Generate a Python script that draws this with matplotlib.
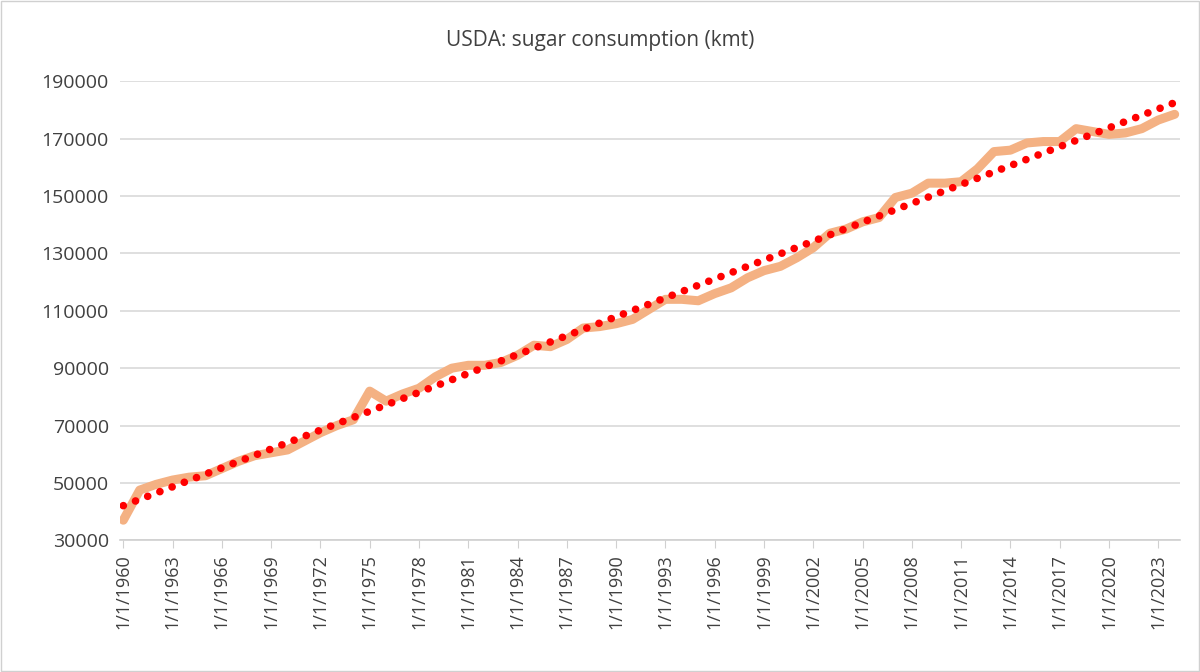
import matplotlib
matplotlib.use("Agg")
import matplotlib.pyplot as plt
import numpy as np

years = list(range(1960, 2025))
consumption = [37000, 47500, 49500, 51000, 52000, 52500, 55000, 57500, 59500, 60500,
               61500, 64500, 67500, 70000, 72000, 82000, 78500, 81000, 83000, 87000,
               90000, 91000, 91000, 92000, 94500, 98000, 97500, 100000, 104000, 104500,
               105500, 107000, 110500, 114000, 114000, 113500, 116000, 118000, 121500, 124000,
               125500, 128500, 132000, 137000, 138500, 141000, 142500, 149500, 151000, 154500,
               154500, 155000, 159500, 165500, 166000, 168500, 169000, 169000, 173500, 172500,
               171500, 172000, 173500, 176500, 178500]
labels = [f"1/1/{y}" for y in years]

plt.rcParams['font.family'] = ['Open Sans', 'DejaVu Sans']
fig = plt.figure(figsize=(12, 6.72), dpi=100)
ax = fig.add_axes([0.1, 0.196, 0.883, 0.683])
x = np.arange(len(years))
ax.plot(x, consumption, color='#f4b183', lw=6.5, solid_joinstyle='round', solid_capstyle='round', zorder=2)
coef = np.polyfit(x, consumption, 1)
ax.plot(x, np.polyval(coef, x), color='#ff0000', lw=5.5, linestyle=(0, (0.01, 1.7)),
        dash_capstyle='round', zorder=3)

ax.set_ylim(30000, 190000)
ax.set_yticks(range(30000, 190001, 20000))
ax.set_xlim(-0.2, len(years) - 0.7)
ax.set_xticks(x[::3])
ax.set_xticklabels(labels[::3], rotation=90, fontsize=13, color='#404040')
ax.tick_params(axis='y', labelsize=14, labelcolor='#404040', length=0, pad=8)
ax.tick_params(axis='x', length=6, color='#d0d0d0', pad=4)
ax.grid(axis='y', color='#d9d9d9', lw=1.2)
for s in ['top', 'right', 'left']:
    ax.spines[s].set_visible(False)
ax.spines['bottom'].set_color('#d0d0d0')
ax.spines['bottom'].set_linewidth(1.2)
ax.set_axisbelow(True)
fig.text(0.5, 0.94, "USDA: sugar consumption (kmt)", ha='center', va='center', fontsize=15, color='#404040')
fig.patches.append(plt.Rectangle((0.001, 0.001), 0.998, 0.997, transform=fig.transFigure,
                                 fill=False, edgecolor='#d0d0d0', lw=1))
fig.savefig("out.png", dpi=100)
